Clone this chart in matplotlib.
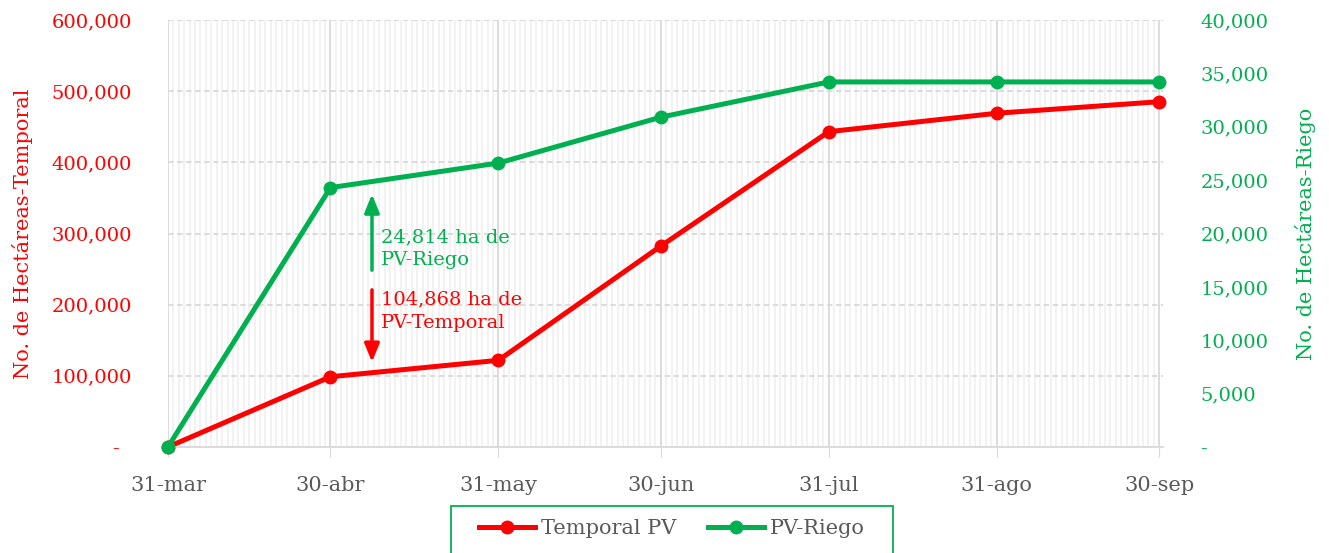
import matplotlib.pyplot as plt
import matplotlib.dates as mdates
import matplotlib.ticker as mticker
from matplotlib.patches import Rectangle
from datetime import datetime, timedelta

plt.rcParams['font.family'] = ['DejaVu Serif']

# data
fechas = ["2023-03-31", "2023-04-30", "2023-05-31", "2023-06-30",
          "2023-07-31", "2023-08-31", "2023-09-30"]
etiquetas = ["31-mar", "30-abr", "31-may", "30-jun", "31-jul", "31-ago", "30-sep"]
temporal_pv = [0, 98700, 121800, 282400, 443100, 469000, 485200]
pv_riego = [0, 24300, 26600, 30900, 34200, 34200, 34200]

RED = "#FF0000"
GREEN = "#00B050"
GREY = "#595959"

x = [datetime.strptime(f, "%Y-%m-%d") for f in fechas]

fig = plt.figure(figsize=(13.29, 5.53), dpi=100)
ax = fig.add_axes([0.1264, 0.1917, 0.7487, 0.7721])
ax2 = ax.twinx()

l1, = ax.plot(x, temporal_pv, color=RED, lw=3.6, marker='o', ms=9,
              label="Temporal PV", clip_on=False)
l2, = ax2.plot(x, pv_riego, color=GREEN, lw=3.6, marker='o', ms=9,
               label="PV-Riego", clip_on=False)

ax.set_xlim(x[0], x[-1] + timedelta(days=0.7))
ax.set_ylim(0, 600000)
ax2.set_ylim(0, 40000)

# ticks
ax.xaxis.set_major_locator(mticker.FixedLocator(mdates.date2num(x)))
ax.xaxis.set_major_formatter(mticker.FixedFormatter(etiquetas))
ax.xaxis.set_minor_locator(mdates.DayLocator())
ax.yaxis.set_major_locator(mticker.MultipleLocator(100000))
ax2.yaxis.set_major_locator(mticker.MultipleLocator(5000))


def fmt_left(v, pos):
    return "-  " if v == 0 else f"{v:,.0f}"


def fmt_right(v, pos):
    return "-" if v == 0 else f"{v:,.0f}"


ax.yaxis.set_major_formatter(mticker.FuncFormatter(fmt_left))
ax2.yaxis.set_major_formatter(mticker.FuncFormatter(fmt_right))

ax.tick_params(axis='x', which='major', length=7, color="#D9D9D9",
               labelsize=15, labelcolor=GREY, pad=14)
ax.tick_params(axis='x', which='minor', length=0)
ax.tick_params(axis='y', length=0, labelsize=14, labelcolor=RED, pad=26)
ax2.tick_params(axis='y', length=0, labelsize=14, labelcolor=GREEN, pad=27)

# grid
ax.grid(axis='x', which='minor', color="#F0F0F0", lw=1.2)
ax.grid(axis='x', which='major', color="#D9D9D9", lw=1.3)
ax.grid(axis='y', which='major', color="#D9D9D9", lw=1.3, ls=(0, (3, 2)))
ax.set_axisbelow(True)
for a in (ax, ax2):
    for s in a.spines.values():
        s.set_visible(False)
ax.spines['bottom'].set_visible(True)
ax.spines['bottom'].set_color("#D9D9D9")
ax.spines['bottom'].set_linewidth(1.3)

ax.set_ylabel("No. de Hectáreas-Temporal", color=RED, fontsize=15, labelpad=13)
ax2.set_ylabel("No. de Hectáreas-Riego", color=GREEN, fontsize=15,
               rotation=90, labelpad=19)

# annotations
ax.annotate("", xy=(0.205, 0.592), xytext=(0.205, 0.414), xycoords='axes fraction',
            arrowprops=dict(arrowstyle='-|>,head_width=0.45,head_length=1.1',
                            color=GREEN, lw=2.5, shrinkA=0, shrinkB=0))
ax.annotate("", xy=(0.205, 0.199), xytext=(0.205, 0.368), xycoords='axes fraction',
            arrowprops=dict(arrowstyle='-|>,head_width=0.45,head_length=1.1',
                            color=RED, lw=2.5, shrinkA=0, shrinkB=0))
ax.text(0.214, 0.464, "24,814 ha de\nPV-Riego", transform=ax.transAxes,
        color=GREEN, fontsize=14, va='center', ha='left', linespacing=1.35)
ax.text(0.214, 0.318, "104,868 ha de\nPV-Temporal", transform=ax.transAxes,
        color=RED, fontsize=14, va='center', ha='left', linespacing=1.35)

# legend with a hand-drawn frame
fig.add_artist(Rectangle((451 / 1329, -0.01), (893 - 451) / 1329, 0.095,
                         transform=fig.transFigure, fill=False,
                         edgecolor=GREEN, lw=1.3))
leg = fig.legend(handles=[l1, l2], loc='center',
                 bbox_to_anchor=(0.5056, 0.0434), ncol=2, fontsize=15,
                 frameon=False, handlelength=2.7, columnspacing=1.5,
                 handletextpad=0.3, borderaxespad=0)
for t in leg.get_texts():
    t.set_color(GREY)

fig.savefig("out.png", dpi=100)
